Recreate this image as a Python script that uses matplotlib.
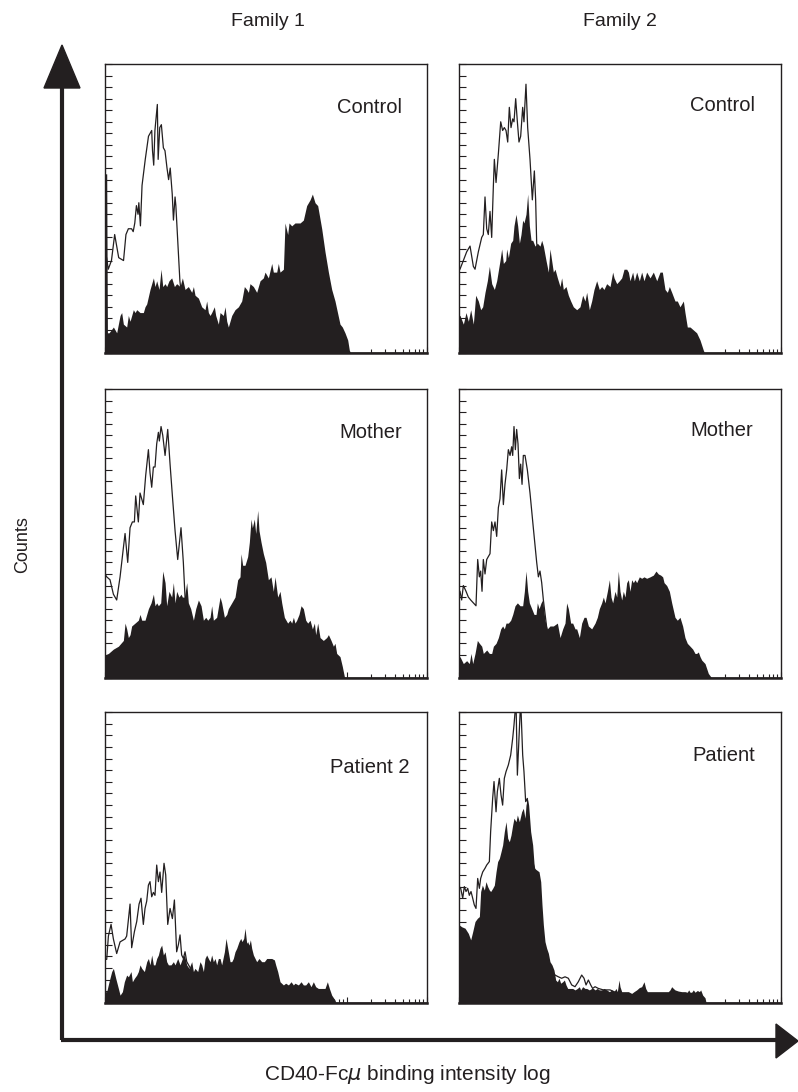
import numpy as np
import matplotlib
matplotlib.use('Agg')
import matplotlib.pyplot as plt
from matplotlib.patches import Polygon
from matplotlib.ticker import MultipleLocator, LogLocator, NullFormatter

plt.rcParams['font.family'] = ['Liberation Sans', 'DejaVu Sans']

# x = log10 of binding intensity (0..4 decades), y = counts (0..100)
col_titles = ['Family 1', 'Family 2']
panel_labels = [['Control', 'Control'], ['Mother', 'Mother'], ['Patient 2', 'Patient']]

f1_control_open = [(0.0, 33), (0.02, 33), (0.04, 29), (0.08, 32), (0.12, 41), (0.17, 33), (0.23, 32), (0.26, 41),
                   (0.29, 43), (0.33, 43), (0.35, 42), (0.37, 45), (0.39, 51), (0.41, 48), (0.42, 52), (0.44, 44),
                   (0.46, 58), (0.50, 67), (0.54, 75), (0.58, 77), (0.59, 70), (0.605, 65), (0.62, 77), (0.65, 86),
                   (0.66, 67), (0.68, 78), (0.70, 79), (0.725, 71), (0.745, 70), (0.77, 64), (0.79, 60), (0.81, 64),
                   (0.835, 55), (0.85, 46), (0.87, 54), (0.88, 51), (0.93, 25), (0.97, 15), (1.05, 8), (1.2, 4),
                   (1.5, 2), (2.0, 1), (2.5, 0), (4.0, 0)]
f1_control_fill = [(0.0, 62), (0.021, 62), (0.03, 7), (0.05, 7), (0.104, 9), (0.145, 7), (0.187, 13), (0.207, 14),
                   (0.228, 10), (0.269, 9), (0.29, 13), (0.311, 11), (0.352, 15), (0.373, 14), (0.394, 15),
                   (0.435, 14), (0.476, 14), (0.497, 16), (0.518, 17), (0.559, 22), (0.601, 26), (0.621, 23),
                   (0.642, 25), (0.671, 22), (0.696, 29), (0.717, 23), (0.746, 24), (0.766, 23), (0.795, 25),
                   (0.828, 26), (0.862, 23), (0.89, 24), (0.932, 23), (0.961, 26), (0.994, 22), (1.035, 23),
                   (1.077, 21), (1.098, 23), (1.118, 20), (1.16, 19), (1.201, 16), (1.242, 15), (1.263, 18),
                   (1.284, 14), (1.305, 13), (1.325, 14), (1.358, 16), (1.375, 13), (1.408, 10), (1.429, 14),
                   (1.47, 13), (1.491, 16), (1.512, 11), (1.532, 9), (1.574, 13), (1.615, 15), (1.657, 16),
                   (1.698, 18), (1.731, 23), (1.76, 22), (1.781, 21), (1.801, 24), (1.843, 23), (1.884, 21),
                   (1.926, 25), (1.967, 26), (1.988, 28), (2.029, 26), (2.071, 31), (2.091, 28), (2.133, 28),
                   (2.153, 31), (2.174, 28), (2.216, 29), (2.236, 45), (2.269, 41), (2.286, 45), (2.319, 44),
                   (2.36, 45), (2.423, 45), (2.464, 46), (2.505, 51), (2.547, 53), (2.576, 55), (2.609, 52),
                   (2.642, 51), (2.692, 43), (2.733, 35), (2.775, 28), (2.816, 22), (2.857, 18), (2.919, 10),
                   (2.948, 9), (2.981, 7), (3.015, 4.5), (3.035, 1), (3.05, 0), (4.0, 0)]

f2_control_open = [(0.0, 29), (0.012, 29), (0.054, 32), (0.095, 35), (0.137, 37), (0.178, 30), (0.199, 29),
                   (0.24, 35), (0.282, 40), (0.302, 41), (0.323, 54), (0.344, 43), (0.364, 41), (0.385, 49),
                   (0.406, 40), (0.427, 58), (0.439, 67), (0.46, 59), (0.489, 69), (0.518, 80), (0.542, 77),
                   (0.563, 78), (0.584, 77), (0.605, 73), (0.625, 85), (0.646, 78), (0.667, 81), (0.683, 80),
                   (0.704, 88), (0.725, 80), (0.745, 73), (0.766, 75), (0.791, 85), (0.807, 80), (0.832, 93),
                   (0.853, 78), (0.882, 67), (0.911, 53), (0.936, 63), (0.952, 53), (0.965, 38), (1.05, 20),
                   (1.2, 8), (1.5, 3), (2.0, 1), (2.5, 0), (4.0, 0)]
f2_control_fill = [(0.0, 13), (0.012, 13), (0.054, 10), (0.087, 14), (0.116, 11), (0.145, 15), (0.178, 10),
                   (0.207, 20), (0.24, 18), (0.269, 15), (0.294, 16), (0.323, 21), (0.352, 25), (0.377, 30),
                   (0.406, 24), (0.439, 22), (0.468, 25), (0.509, 32), (0.53, 36), (0.551, 31), (0.58, 32),
                   (0.592, 36), (0.613, 33), (0.642, 38), (0.667, 39), (0.683, 44), (0.708, 48), (0.729, 44),
                   (0.75, 38), (0.77, 41), (0.791, 46), (0.807, 45), (0.832, 48), (0.853, 55), (0.874, 44),
                   (0.895, 39), (0.915, 39), (0.944, 37), (0.973, 38), (1.006, 37), (1.027, 39), (1.048, 37),
                   (1.081, 32), (1.11, 28), (1.13, 36), (1.151, 32), (1.172, 28), (1.193, 29), (1.222, 26),
                   (1.255, 23), (1.275, 26), (1.296, 22), (1.329, 23), (1.358, 20), (1.387, 18), (1.42, 16),
                   (1.462, 15), (1.503, 16), (1.536, 20), (1.565, 18), (1.586, 21), (1.619, 15), (1.648, 18),
                   (1.677, 22), (1.71, 25), (1.743, 22), (1.772, 23), (1.801, 22), (1.834, 24), (1.876, 23),
                   (1.909, 28), (1.926, 26), (1.959, 24), (1.992, 25), (2.021, 26), (2.05, 29), (2.083, 29),
                   (2.104, 28), (2.124, 25), (2.157, 28), (2.178, 25), (2.207, 28), (2.24, 25), (2.269, 28),
                   (2.298, 25), (2.331, 28), (2.373, 26), (2.414, 28), (2.456, 25), (2.497, 28), (2.526, 28),
                   (2.559, 22), (2.588, 21), (2.613, 23), (2.642, 21), (2.683, 18), (2.712, 18), (2.745, 16),
                   (2.787, 18), (2.807, 14), (2.836, 9), (2.87, 9), (2.911, 8), (2.952, 7), (2.994, 4.5),
                   (3.035, 1), (3.05, 0), (4.0, 0)]

f1_mother_open = [(0.0, 36), (0.021, 35), (0.062, 34), (0.104, 29), (0.145, 27), (0.187, 35), (0.228, 45),
                  (0.249, 50), (0.282, 40), (0.311, 52), (0.34, 54), (0.365, 54), (0.381, 63), (0.414, 54),
                  (0.435, 64), (0.476, 60), (0.505, 70), (0.539, 79), (0.559, 71), (0.58, 66), (0.601, 73),
                  (0.621, 73), (0.642, 81), (0.663, 85), (0.675, 82), (0.696, 87), (0.717, 84), (0.746, 77),
                  (0.779, 86), (0.808, 74), (0.837, 63), (0.87, 51), (0.903, 41), (0.944, 52), (0.973, 40),
                  (0.994, 28), (1.05, 20), (1.2, 10), (1.5, 4), (2.0, 1), (2.5, 0), (4.0, 0)]
f1_mother_fill = [(0.0, 8), (0.042, 8.5), (0.104, 10), (0.166, 11), (0.228, 13), (0.249, 19), (0.269, 17),
                  (0.29, 14), (0.311, 15), (0.331, 18), (0.373, 19), (0.414, 20), (0.435, 22), (0.456, 20),
                  (0.497, 20), (0.539, 24), (0.572, 26), (0.601, 29), (0.621, 25), (0.642, 26), (0.663, 25),
                  (0.692, 26), (0.717, 37), (0.746, 33), (0.766, 25), (0.795, 30), (0.828, 28), (0.849, 33),
                  (0.87, 26), (0.89, 30), (0.919, 28), (0.944, 29), (0.961, 28), (0.986, 28), (1.015, 33),
                  (1.035, 26), (1.064, 24), (1.098, 20), (1.127, 24), (1.16, 27), (1.193, 25), (1.222, 20),
                  (1.251, 21), (1.276, 20), (1.305, 21), (1.325, 25), (1.346, 20), (1.387, 21), (1.429, 28),
                  (1.449, 26), (1.483, 21), (1.512, 22), (1.532, 24), (1.574, 26), (1.615, 28), (1.648, 34),
                  (1.677, 35), (1.69, 43), (1.71, 39), (1.739, 39), (1.772, 42), (1.793, 47), (1.814, 55),
                  (1.83, 52), (1.855, 55), (1.872, 50), (1.897, 58), (1.913, 51), (1.938, 47), (1.967, 43),
                  (1.996, 40), (2.029, 34), (2.062, 35), (2.091, 30), (2.112, 35), (2.145, 28), (2.174, 30),
                  (2.195, 26), (2.228, 21), (2.269, 19), (2.298, 20), (2.319, 19), (2.34, 21), (2.36, 19),
                  (2.381, 20), (2.41, 22), (2.435, 25), (2.464, 24), (2.493, 20), (2.518, 19), (2.547, 20),
                  (2.576, 17), (2.601, 19), (2.617, 15), (2.642, 19), (2.671, 14), (2.712, 13), (2.754, 14),
                  (2.775, 15), (2.808, 13), (2.837, 11), (2.857, 12), (2.878, 8.5), (2.919, 7.4), (2.948, 4),
                  (2.973, 0.5), (2.99, 0), (4.0, 0)]

f2_mother_open = [(0.0, 30), (0.012, 30), (0.033, 27), (0.054, 32), (0.087, 30), (0.116, 28), (0.145, 27),
                  (0.178, 26), (0.211, 25), (0.232, 41), (0.253, 35), (0.269, 37), (0.286, 30), (0.302, 41),
                  (0.323, 36), (0.344, 41), (0.364, 42), (0.385, 43), (0.406, 54), (0.427, 51), (0.447, 54),
                  (0.468, 49), (0.489, 59), (0.509, 62), (0.53, 72), (0.551, 60), (0.571, 67), (0.592, 72),
                  (0.613, 79), (0.634, 77), (0.654, 80), (0.667, 77), (0.683, 87), (0.7, 79), (0.716, 86),
                  (0.733, 81), (0.75, 69), (0.766, 74), (0.783, 67), (0.799, 77), (0.82, 77), (0.849, 72),
                  (0.882, 64), (0.923, 52), (0.965, 40), (0.986, 35), (1.006, 37), (1.027, 33), (1.048, 27),
                  (1.1, 15), (1.3, 6), (1.6, 2), (2.0, 0), (4.0, 0)]
f2_mother_fill = [(0.0, 7), (0.012, 7.4), (0.054, 5), (0.095, 6), (0.128, 5), (0.149, 8.5), (0.17, 5),
                  (0.199, 8.5), (0.228, 13), (0.253, 12), (0.282, 11), (0.302, 8.5), (0.344, 9.7), (0.377, 8.5),
                  (0.406, 8.5), (0.427, 11), (0.46, 12), (0.489, 14), (0.518, 17), (0.542, 18), (0.563, 17),
                  (0.584, 19), (0.613, 19), (0.642, 20), (0.667, 22), (0.696, 25), (0.725, 26), (0.758, 25),
                  (0.791, 25), (0.812, 30), (0.832, 37), (0.853, 30), (0.874, 26), (0.903, 24), (0.932, 22),
                  (0.957, 22), (0.973, 26), (0.994, 24), (1.019, 26), (1.039, 27), (1.068, 20), (1.097, 17),
                  (1.13, 18), (1.172, 18), (1.222, 19), (1.255, 14), (1.288, 17), (1.317, 19), (1.337, 26),
                  (1.358, 24), (1.387, 19), (1.412, 19), (1.441, 17), (1.462, 17), (1.495, 14), (1.524, 19),
                  (1.553, 21), (1.578, 21), (1.607, 18), (1.648, 17), (1.69, 19), (1.718, 21), (1.743, 24),
                  (1.772, 26), (1.793, 28), (1.814, 26), (1.843, 30), (1.868, 34), (1.888, 28), (1.909, 26),
                  (1.938, 30), (1.959, 28), (1.979, 37), (2.0, 30), (2.021, 27), (2.041, 30), (2.062, 28),
                  (2.083, 33), (2.104, 34), (2.124, 30), (2.145, 34), (2.166, 33), (2.186, 34), (2.207, 33),
                  (2.24, 35), (2.269, 34.5), (2.298, 35), (2.331, 34.5), (2.373, 35), (2.414, 35.6), (2.447, 37),
                  (2.476, 36), (2.505, 35.6), (2.53, 35), (2.547, 33), (2.58, 32), (2.613, 30), (2.642, 26),
                  (2.683, 21), (2.712, 20), (2.745, 21), (2.778, 18), (2.807, 14), (2.836, 12), (2.87, 11),
                  (2.903, 10), (2.932, 8.5), (2.952, 8.5), (2.973, 9), (2.994, 7.4), (3.015, 6.2), (3.056, 5),
                  (3.097, 1.6), (3.126, 0.5), (3.14, 0), (4.0, 0)]

f1_patient_open = [(0.0, 15), (0.021, 15), (0.042, 23), (0.075, 27), (0.104, 22), (0.145, 17), (0.187, 21),
                   (0.249, 22), (0.269, 23), (0.311, 34), (0.331, 19), (0.365, 24.5), (0.394, 28), (0.423, 34),
                   (0.447, 36), (0.476, 27), (0.497, 32.5), (0.518, 35), (0.539, 40.5), (0.559, 41.7),
                   (0.58, 36.5), (0.601, 38), (0.621, 37), (0.642, 47.4), (0.663, 41.7), (0.683, 45), (0.704, 38),
                   (0.733, 48), (0.754, 44), (0.779, 27), (0.808, 32.5), (0.837, 29), (0.862, 35.4), (0.89, 17.6),
                   (0.911, 20), (0.932, 23.4), (0.952, 16.5), (0.973, 15.3), (0.994, 17.6), (1.015, 14.2),
                   (1.1, 10), (1.3, 6), (1.6, 3), (2.0, 1), (2.5, 0), (4.0, 0)]
f1_patient_fill = [(0.0, 3.9), (0.021, 3.9), (0.05, 7.3), (0.083, 10.8), (0.104, 11.9), (0.133, 8.5), (0.166, 5),
                   (0.187, 2.7), (0.216, 3.9), (0.24, 7.3), (0.269, 9.6), (0.29, 9), (0.323, 10.8), (0.34, 7.3),
                   (0.365, 8.5), (0.394, 9.6), (0.414, 10.8), (0.435, 13.1), (0.456, 11.9), (0.489, 10.8),
                   (0.518, 14.2), (0.539, 15.3), (0.559, 13.1), (0.58, 16.5), (0.601, 13.1), (0.621, 13.1),
                   (0.642, 15.3), (0.663, 16.5), (0.683, 18.8), (0.704, 19.9), (0.725, 16.5), (0.746, 17.6),
                   (0.766, 14.2), (0.787, 13.1), (0.82, 13.1), (0.849, 14.2), (0.87, 13.1), (0.903, 15.3),
                   (0.932, 13.1), (0.961, 15.3), (0.986, 16.5), (1.015, 13.1), (1.044, 11.9), (1.077, 14.2),
                   (1.098, 10.8), (1.118, 11.9), (1.151, 10.8), (1.18, 14.2), (1.201, 13.1), (1.222, 10.8),
                   (1.242, 15.3), (1.263, 16.5), (1.284, 15.3), (1.305, 14.2), (1.325, 16.5), (1.346, 14.2),
                   (1.367, 15.3), (1.387, 13.1), (1.408, 15.3), (1.429, 15.3), (1.449, 13.1), (1.483, 17.6),
                   (1.503, 22.2), (1.524, 18.8), (1.553, 14.2), (1.574, 14.2), (1.594, 15.3), (1.615, 17.6),
                   (1.636, 18.8), (1.665, 21.1), (1.686, 22.2), (1.702, 21.1), (1.723, 22.2), (1.739, 25.7),
                   (1.76, 20.5), (1.772, 21.1), (1.789, 19.9), (1.806, 21.7), (1.822, 18.8), (1.843, 16.5),
                   (1.864, 15.3), (1.884, 14.2), (1.913, 15.3), (1.946, 14.2), (1.979, 14.2), (2.009, 15.3),
                   (2.038, 15.3), (2.071, 15.3), (2.104, 14.8), (2.12, 13.1), (2.145, 10.8), (2.174, 7.3),
                   (2.216, 6.2), (2.244, 6.8), (2.278, 6.2), (2.311, 7.3), (2.34, 6.2), (2.36, 6.8), (2.402, 6.2),
                   (2.435, 7.3), (2.464, 6.2), (2.493, 6.2), (2.526, 7.3), (2.559, 5.6), (2.588, 7.3),
                   (2.617, 5.6), (2.65, 5), (2.692, 5), (2.733, 5), (2.762, 7.3), (2.787, 5), (2.816, 2.7),
                   (2.857, 1), (2.87, 0), (4.0, 0)]

f2_patient_open = [(0.0, 66), (0.004, 40), (0.021, 39.4), (0.046, 36), (0.066, 40), (0.087, 38.3), (0.108, 39.4),
                   (0.128, 37), (0.149, 38.3), (0.17, 36), (0.19, 33.7), (0.211, 32.5), (0.232, 42.8),
                   (0.253, 39.4), (0.269, 42.8), (0.294, 45), (0.323, 46.3), (0.344, 47.4), (0.377, 48.6),
                   (0.393, 58.9), (0.418, 70.3), (0.435, 76.1), (0.46, 65.7), (0.476, 72.6), (0.501, 77.2),
                   (0.522, 71.5), (0.542, 68), (0.563, 77.2), (0.584, 79.5), (0.613, 81.8), (0.642, 85.2),
                   (0.667, 91), (0.683, 95.5), (0.708, 104), (0.725, 78.3), (0.745, 91), (0.766, 104),
                   (0.791, 85.2), (0.807, 79.5), (0.828, 69.2), (0.849, 70.3), (0.865, 62.3), (0.89, 55.4),
                   (0.915, 48.6), (0.944, 45.7), (0.98, 40), (1.05, 20), (1.12, 12), (1.193, 9.6), (1.234, 9),
                   (1.275, 8.5), (1.317, 9), (1.358, 8.5), (1.4, 6.2), (1.441, 5.6), (1.482, 7.3), (1.524, 9.6),
                   (1.553, 8.5), (1.578, 6.2), (1.607, 7.9), (1.636, 6.2), (1.66, 5), (1.69, 5.6), (1.731, 5),
                   (1.793, 4.5), (1.876, 4.5), (2.0, 3), (2.5, 1), (3.0, 0), (4.0, 0)]
f2_patient_fill = [(0.0, 27), (0.004, 26.8), (0.033, 26.2), (0.075, 25.7), (0.116, 23.9), (0.145, 21.7),
                   (0.17, 24.5), (0.199, 28), (0.228, 29.1), (0.253, 29.7), (0.269, 38.3), (0.29, 40.5),
                   (0.315, 38.8), (0.335, 41.7), (0.356, 40), (0.377, 38.8), (0.393, 38.3), (0.418, 39.4),
                   (0.439, 40.5), (0.46, 45.1), (0.48, 48.6), (0.501, 49.7), (0.522, 52), (0.542, 54.3),
                   (0.563, 58.9), (0.584, 62.3), (0.605, 56.6), (0.625, 55.4), (0.646, 57.7), (0.667, 61.2),
                   (0.683, 63.5), (0.708, 62.3), (0.725, 64.6), (0.75, 62.3), (0.778, 65.7), (0.799, 66.9),
                   (0.82, 63.5), (0.832, 68), (0.849, 70.3), (0.865, 68), (0.89, 58.9), (0.915, 54.3),
                   (0.936, 46.3), (0.965, 45.7), (0.994, 45.1), (1.015, 41.7), (1.031, 33.7), (1.048, 26.8),
                   (1.068, 21.1), (1.089, 18.8), (1.11, 17.1), (1.13, 14.2), (1.155, 13.1), (1.18, 11.3),
                   (1.201, 7.9), (1.222, 7.3), (1.242, 8.5), (1.263, 6.8), (1.288, 7.3), (1.309, 7.9),
                   (1.329, 6.2), (1.35, 5), (1.379, 5), (1.412, 5), (1.441, 4.5), (1.47, 5), (1.495, 5.6),
                   (1.511, 4.5), (1.536, 5.6), (1.565, 5), (1.586, 5), (1.619, 4.5), (1.648, 5), (1.669, 5),
                   (1.69, 4.5), (1.718, 5), (1.743, 4.5), (1.772, 4.5), (1.801, 5), (1.834, 4.5), (1.868, 3.9),
                   (1.897, 4.5), (1.926, 3.9), (1.95, 5), (1.967, 3.9), (1.988, 7.9), (2.0, 5.6), (2.021, 3.9),
                   (2.062, 3.9), (2.104, 3.9), (2.145, 3.3), (2.174, 3.9), (2.207, 4.5), (2.24, 5.3),
                   (2.269, 5.6), (2.298, 7.3), (2.319, 5), (2.34, 3.9), (2.373, 3.9), (2.414, 3.9), (2.476, 3.9),
                   (2.538, 3.9), (2.6, 3.9), (2.621, 4.5), (2.642, 5.6), (2.663, 5), (2.683, 4.5), (2.725, 4.1),
                   (2.766, 3.9), (2.807, 3.9), (2.836, 3.7), (2.853, 4.5), (2.87, 3.7), (2.89, 3.7), (2.911, 4.5),
                   (2.932, 3.7), (2.961, 4.3), (2.986, 3.9), (3.002, 4.5), (3.027, 2.7), (3.056, 1.8),
                   (3.07, 0), (4.0, 0)]

curves = [[(f1_control_fill, f1_control_open), (f2_control_fill, f2_control_open)],
          [(f1_mother_fill, f1_mother_open), (f2_mother_fill, f2_mother_open)],
          [(f1_patient_fill, f1_patient_open), (f2_patient_fill, f2_patient_open)]]

ink = '#231f20'
fig = plt.figure(figsize=(7.98, 10.92), dpi=100)

# layout of the 3x2 grid (figure fractions)
col_left = [0.1316, 0.5752]
row_bottom = [0.6767, 0.3791, 0.0815]
row_height = [0.2647, 0.2647, 0.2665]
width = 0.4035
label_pos = [[(0.922, 0.848), (0.919, 0.858)],
             [(0.922, 0.851), (0.913, 0.858)],
             [(0.947, 0.808), (0.919, 0.852)]]

for r in range(3):
    for c in range(2):
        ax = fig.add_axes([col_left[c], row_bottom[r], width, row_height[r]])
        fill, line = curves[r][c]
        fx, fy = np.array(fill).T
        ox, oy = np.array(line).T
        ax.fill_between(10 ** fx, fy, 0, color=ink, lw=0)
        ax.plot(10 ** ox, oy, color=ink, lw=0.9)
        ax.set_xscale('log')
        ax.set_xlim(1, 1e4)
        ax.set_ylim(0, 100)
        ax.yaxis.set_major_locator(MultipleLocator(4))
        ax.xaxis.set_major_locator(LogLocator(base=10, subs=(1.0,)))
        ax.xaxis.set_minor_locator(LogLocator(base=10, subs=np.arange(2, 10)))
        ax.xaxis.set_minor_formatter(NullFormatter())
        ax.tick_params(axis='y', direction='in', length=5, width=0.8, color=ink,
                       labelleft=False, right=False)
        ax.tick_params(axis='x', which='major', direction='in', length=4, width=0.8, color=ink,
                       labelbottom=False, top=False)
        ax.tick_params(axis='x', which='minor', direction='in', length=3, width=0.8, color=ink,
                       labelbottom=False, top=False)
        for side in ax.spines.values():
            side.set_color(ink)
            side.set_linewidth(1.0)
        ax.spines['bottom'].set_linewidth(1.8)
        lx, ly = label_pos[r][c]
        ax.text(lx, ly, panel_labels[r][c], transform=ax.transAxes, ha='right', va='center',
                fontsize=14.5, color=ink)

# overlay for the axis arrows (pixel coordinates)
ov = fig.add_axes([0, 0, 1, 1], zorder=-1)
ov.set_xlim(0, 798)
ov.set_ylim(1092, 0)
ov.axis('off')
ov.plot([62, 62], [86, 1040], color=ink, lw=3, solid_capstyle='butt')
ov.plot([60.5, 778], [1040, 1040], color=ink, lw=3, solid_capstyle='butt')
ov.add_patch(Polygon([(62, 45), (44, 88), (80, 88)], closed=True, color=ink))
ov.add_patch(Polygon([(798, 1041), (776, 1024), (776, 1058)], closed=True, color=ink))

fig.text(0.336, 0.980, col_titles[0], ha='center', va='center', fontsize=14, color=ink)
fig.text(0.777, 0.980, col_titles[1], ha='center', va='center', fontsize=14, color=ink)
fig.text(0.028, 0.501, 'Counts', ha='center', va='center', rotation=90, fontsize=13, color=ink)
fig.text(0.51, 0.0156, r'CD40-Fc$\mu$ binding intensity log', ha='center', va='center',
         fontsize=15, color=ink)

fig.savefig('out.png', dpi=100)
